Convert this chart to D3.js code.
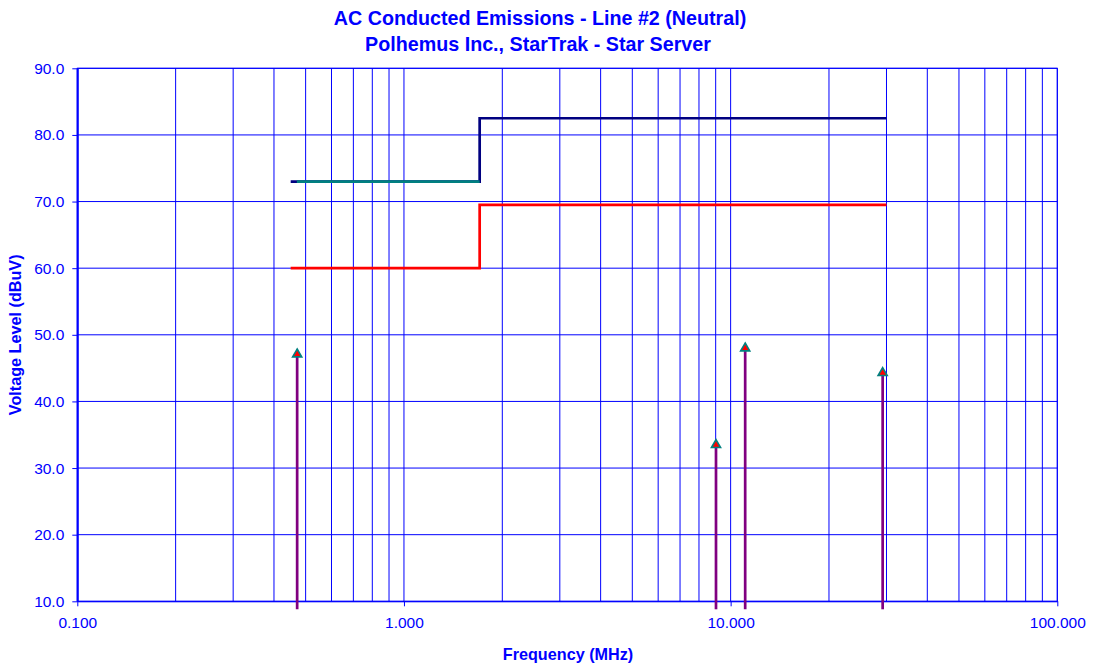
<!DOCTYPE html>
<html>
<head>
<meta charset="utf-8">
<script src="https://cdn.jsdelivr.net/npm/d3@7/dist/d3.min.js"></script>
<style>
  html, body { margin: 0; padding: 0; background: #ffffff; }
  svg { display: block; }
  text { font-family: "Liberation Sans", Arial, sans-serif; fill: #0000ff; }
</style>
</head>
<body>
<svg id="chart" width="1096" height="665"></svg>
<script>
// Axis ranges and tick labels
const freqDomain = [0.1, 100];
const levelDomain = [10, 90];
const freqTicks = [0.1, 1, 10, 100];
const levelTicks = [10, 20, 30, 40, 50, 60, 70, 80, 90];

// Quasi-peak limit (upper, navy)
const limitQpFreq = [0.45, 1.705, 1.705, 30];
const limitQpLevel = [73, 73, 82.5, 82.5];

// Lower band segment of the quasi-peak limit (teal)
const limitLowFreq = [0.47, 1.705];
const limitLowLevel = [73, 73];

// Average limit (red)
const limitAvgFreq = [0.45, 1.705, 1.705, 30];
const limitAvgLevel = [60, 60, 69.5, 69.5];

// Measured emissions on the neutral line
const emissionFreq = [0.471, 9.02, 11.08, 29.2];
const emissionLevel = [47.2, 33.6, 48.1, 44.4];
const stemBase = 8.8; // stems run just past the bottom of the axis

const svg = d3.select("#chart");
const W = 1096, H = 665;
const margin = { top: 68.3, right: 38.7, bottom: 63.7, left: 77.3 };
const iw = W - margin.left - margin.right;
const ih = H - margin.top - margin.bottom;

const x = d3.scaleLog().domain(freqDomain).range([0, iw]);
const y = d3.scaleLinear().domain(levelDomain).range([ih, 0]);

const g = svg.append("g").attr("transform", `translate(${margin.left},${margin.top})`);

// Vertical grid: 1..9 times each decade
const gridFreqs = [];
[0.1, 1, 10].forEach(d => { for (let k = 1; k <= 9; k++) gridFreqs.push(d * k); });
gridFreqs.push(100);

g.append("g").selectAll("line").data(gridFreqs).join("line")
  .attr("x1", d => x(d)).attr("x2", d => x(d))
  .attr("y1", 0).attr("y2", ih)
  .attr("stroke", "#0000ff").attr("stroke-width", 1);

g.append("g").selectAll("line").data(levelTicks).join("line")
  .attr("x1", 0).attr("x2", iw)
  .attr("y1", d => y(d)).attr("y2", d => y(d))
  .attr("stroke", "#0000ff").attr("stroke-width", 1);

// Plot border
g.append("rect").attr("x", 0).attr("y", 0).attr("width", iw).attr("height", ih)
  .attr("fill", "none").attr("stroke", "#0000ff").attr("stroke-width", 1);

// Axes
const yAxis = d3.axisLeft(y).tickValues(levelTicks).tickFormat(d3.format(".1f"))
  .tickSizeInner(5).tickSizeOuter(0).tickPadding(8);
const yg = g.append("g").call(yAxis);
yg.select(".domain").attr("stroke", "#0000ff").attr("stroke-width", 2);
yg.selectAll(".tick line").attr("stroke", "#0000ff");
yg.selectAll(".tick text").style("font-size", "15.5px").attr("fill", "#0000ff");

const xAxis = d3.axisBottom(x).tickValues(freqTicks).tickFormat(d3.format(".3f"))
  .tickSizeInner(5).tickSizeOuter(0).tickPadding(11);
const xg = g.append("g").attr("transform", `translate(0,${ih})`).call(xAxis);
xg.select(".domain").attr("stroke", "#0000ff");
xg.selectAll(".tick line").attr("stroke", "#0000ff");
xg.selectAll(".tick text").style("font-size", "15.5px").attr("fill", "#0000ff");

// Limit lines
const line = d3.line().x(d => x(d[0])).y(d => y(d[1]));
function drawLine(fs, ls, color, w) {
  g.append("path").datum(d3.zip(fs, ls)).attr("d", line)
    .attr("fill", "none").attr("stroke", color).attr("stroke-width", w)
    .attr("stroke-linejoin", "miter");
}
drawLine(limitQpFreq, limitQpLevel, "#000080", 2.7);
drawLine(limitLowFreq, limitLowLevel, "#008080", 2.7);
drawLine(limitAvgFreq, limitAvgLevel, "#ff0000", 2.7);

// Emission stems with triangle markers
const em = d3.zip(emissionFreq, emissionLevel);
g.append("g").selectAll("line").data(em).join("line")
  .attr("x1", d => x(d[0])).attr("x2", d => x(d[0]))
  .attr("y1", d => y(d[1])).attr("y2", y(stemBase))
  .attr("stroke", "#800080").attr("stroke-width", 2.7);

const tri = d3.symbol().type(d3.symbolTriangle).size(36);
g.append("g").selectAll("path").data(em).join("path")
  .attr("transform", d => `translate(${x(d[0])},${y(d[1]) + 0.8})`)
  .attr("d", tri)
  .attr("fill", "#ff0000").attr("stroke", "#008080").attr("stroke-width", 1.6);

// Titles
svg.append("text").attr("x", 540).attr("y", 25).attr("text-anchor", "middle")
  .style("font-size", "19.7px").style("font-weight", "bold")
  .text("AC Conducted Emissions - Line #2 (Neutral)");
svg.append("text").attr("x", 538).attr("y", 50.5).attr("text-anchor", "middle")
  .style("font-size", "19.7px").style("font-weight", "bold")
  .text("Polhemus Inc., StarTrak - Star Server");

svg.append("text").attr("x", 568).attr("y", 659.5).attr("text-anchor", "middle")
  .style("font-size", "16.2px").style("font-weight", "bold")
  .text("Frequency (MHz)");

svg.append("text").attr("transform", `translate(21,${margin.top + ih / 2}) rotate(-90)`)
  .attr("text-anchor", "middle")
  .style("font-size", "16.2px").style("font-weight", "bold")
  .text("Voltage Level (dBuV)");
</script>
</body>
</html>
